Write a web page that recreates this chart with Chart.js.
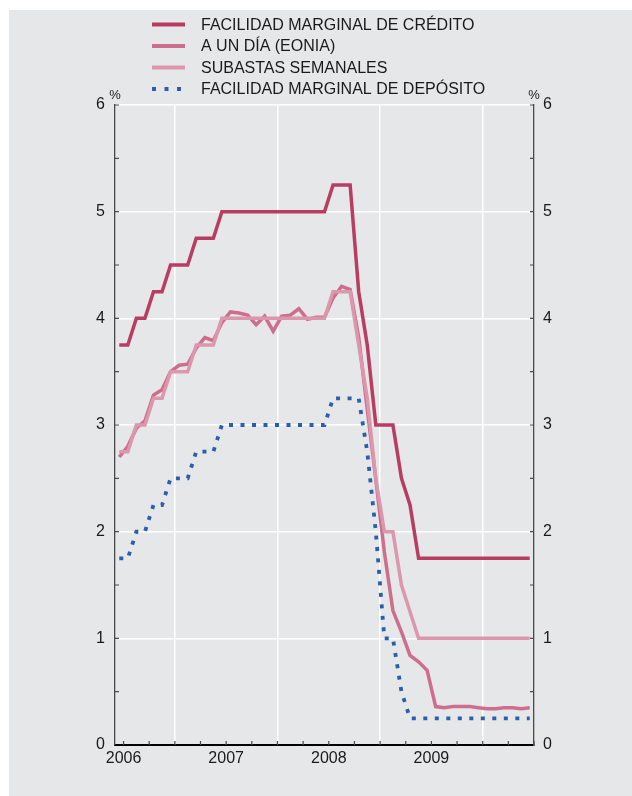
<!DOCTYPE html>
<html>
<head>
<meta charset="utf-8">
<script src="https://cdn.jsdelivr.net/npm/chart.js@4.4.0/dist/chart.umd.min.js"></script>
<style>
  html, body { margin: 0; padding: 0; background: #fff; }
  #wrap { width: 632px; height: 796px; }
</style>
</head>
<body>
<div id="wrap"><canvas id="rates" width="632" height="796"></canvas></div>
<script>
// monthly data, jun 2006 - jun 2010
const months = [
  '2006-06', '2006-07', '2006-08', '2006-09', '2006-10', '2006-11', '2006-12',
  '2007-01', '2007-02', '2007-03', '2007-04', '2007-05', '2007-06',
  '2007-07', '2007-08', '2007-09', '2007-10', '2007-11', '2007-12',
  '2008-01', '2008-02', '2008-03', '2008-04', '2008-05', '2008-06',
  '2008-07', '2008-08', '2008-09', '2008-10', '2008-11', '2008-12',
  '2009-01', '2009-02', '2009-03', '2009-04', '2009-05', '2009-06',
  '2009-07', '2009-08', '2009-09', '2009-10', '2009-11', '2009-12',
  '2010-01', '2010-02', '2010-03', '2010-04', '2010-05', '2010-06'
];

const creditFacility = [
  3.75, 3.75, 4.00, 4.00, 4.25, 4.25, 4.50,
  4.50, 4.50, 4.75, 4.75, 4.75, 5.00,
  5.00, 5.00, 5.00, 5.00, 5.00, 5.00,
  5.00, 5.00, 5.00, 5.00, 5.00, 5.00,
  5.25, 5.25, 5.25, 4.25, 3.75, 3.00,
  3.00, 3.00, 2.50, 2.25, 1.75, 1.75,
  1.75, 1.75, 1.75, 1.75, 1.75, 1.75,
  1.75, 1.75, 1.75, 1.75, 1.75, 1.75
];

const eonia = [
  2.70, 2.80, 2.97, 3.04, 3.28, 3.33, 3.50,
  3.56, 3.57, 3.72, 3.82, 3.79, 3.96,
  4.06, 4.05, 4.03, 3.94, 4.02, 3.88,
  4.02, 4.03, 4.09, 3.99, 4.01, 4.01,
  4.19, 4.30, 4.27, 3.82, 3.15, 2.49,
  1.81, 1.26, 1.06, 0.84, 0.78, 0.70,
  0.36, 0.35, 0.36, 0.36, 0.36, 0.35,
  0.34, 0.34, 0.35, 0.35, 0.34, 0.35
];

const weeklyAuctions = [
  2.75, 2.75, 3.00, 3.00, 3.25, 3.25, 3.50,
  3.50, 3.50, 3.75, 3.75, 3.75, 4.00,
  4.00, 4.00, 4.00, 4.00, 4.00, 4.00,
  4.00, 4.00, 4.00, 4.00, 4.00, 4.00,
  4.25, 4.25, 4.25, 3.75, 3.25, 2.50,
  2.00, 2.00, 1.50, 1.25, 1.00, 1.00,
  1.00, 1.00, 1.00, 1.00, 1.00, 1.00,
  1.00, 1.00, 1.00, 1.00, 1.00, 1.00
];

const depositFacility = [
  1.75, 1.75, 2.00, 2.00, 2.25, 2.25, 2.50,
  2.50, 2.50, 2.75, 2.75, 2.75, 3.00,
  3.00, 3.00, 3.00, 3.00, 3.00, 3.00,
  3.00, 3.00, 3.00, 3.00, 3.00, 3.00,
  3.25, 3.25, 3.25, 3.25, 2.75, 2.00,
  1.00, 1.00, 0.50, 0.25, 0.25, 0.25,
  0.25, 0.25, 0.25, 0.25, 0.25, 0.25,
  0.25, 0.25, 0.25, 0.25, 0.25, 0.25
];

const seriesNames = [
  'FACILIDAD MARGINAL DE CRÉDITO',
  'A UN DÍA (EONIA)',
  'SUBASTAS SEMANALES',
  'FACILIDAD MARGINAL DE DEPÓSITO'
];

const yearLabels = ['2006', '2007', '2008', '2009'];
const yearLabelMonths = ['2006-07', '2007-07', '2008-07', '2009-07'];
const quarterMonths = [
  '2006-07', '2006-10', '2007-01', '2007-04', '2007-07', '2007-10',
  '2008-01', '2008-04', '2008-07', '2008-10', '2009-01', '2009-04',
  '2009-07', '2009-10', '2010-01', '2010-04', '2010-07'
];

// month string -> months since jan 2006 (start of month)
function monthStart(m) {
  const [y, mo] = m.split('-').map(Number);
  return (y - 2006) * 12 + (mo - 1);
}
// data sits in the middle of each month
const xs = months.map(m => monthStart(m) + 0.5);
const toPoints = vals => vals.map((v, i) => ({ x: xs[i], y: v }));

const quarterTicks = quarterMonths.map(monthStart);
const yearTicks = yearLabelMonths.map(monthStart);

Chart.defaults.font.family = '"Liberation Sans", Arial, sans-serif';
Chart.defaults.font.size = 16;
Chart.defaults.color = '#1a1a1a';

const frame = {
  id: 'frame',
  beforeDraw(chart) {
    const { ctx, width, height } = chart;
    ctx.save();
    ctx.fillStyle = '#ffffff';
    ctx.fillRect(0, 0, width, height);
    ctx.fillStyle = '#e6e7e9';
    ctx.fillRect(9, 10, width - 9, height - 10);
    ctx.restore();
  }
};

// short ticks pointing into the plot
const innerTicks = {
  id: 'innerTicks',
  beforeDatasetsDraw(chart) {
    const { ctx, chartArea: a, scales } = chart;
    ctx.save();
    ctx.strokeStyle = '#4a4a4a';
    ctx.lineWidth = 1.2;
    ctx.beginPath();
    scales.y.ticks.forEach(t => {
      if (t.value === 0) return;
      const y = scales.y.getPixelForValue(t.value);
      ctx.moveTo(a.left, y); ctx.lineTo(a.left + 4, y);
      ctx.moveTo(a.right, y); ctx.lineTo(a.right - 4, y);
    });
    scales.x.ticks.forEach(t => {
      const x = scales.x.getPixelForValue(t.value);
      ctx.moveTo(x, a.bottom); ctx.lineTo(x, a.bottom - 4);
    });
    ctx.stroke();
    ctx.restore();
  },
  afterDraw(chart) {
    const { ctx, chartArea: a } = chart;
    ctx.save();
    ctx.fillStyle = '#1a1a1a';
    ctx.font = '13px "Liberation Sans", Arial, sans-serif';
    ctx.textAlign = 'center';
    ctx.textBaseline = 'alphabetic';
    ctx.fillText('%', a.left, a.top - 6);
    ctx.fillText('%', a.right, a.top - 6);
    ctx.restore();
  }
};

// legend drawn at top left, one row per dataset
const topLegend = {
  id: 'topLegend',
  afterDraw(chart) {
    const { ctx } = chart;
    ctx.save();
    chart.data.datasets.forEach((ds, i) => {
      const y = 24.5 + i * 21.5;
      ctx.beginPath();
      ctx.strokeStyle = ds.borderColor;
      ctx.lineWidth = 4;
      ctx.lineCap = 'butt';
      ctx.setLineDash(ds.borderDash ? [4, 8.5] : []);
      ctx.moveTo(152, y);
      ctx.lineTo(185, y);
      ctx.stroke();
      ctx.setLineDash([]);
      ctx.fillStyle = '#1a1a1a';
      ctx.font = '16px "Liberation Sans", Arial, sans-serif';
      ctx.textAlign = 'left';
      ctx.textBaseline = 'middle';
      ctx.fillText(ds.label, 201, y + 1);
    });
    ctx.restore();
  }
};

const lineStyle = { borderWidth: 3.5, pointRadius: 0, tension: 0, fill: false, borderCapStyle: 'butt' };

new Chart(document.getElementById('rates'), {
  type: 'line',
  data: {
    datasets: [
      { ...lineStyle, label: seriesNames[0], data: toPoints(creditFacility), borderColor: '#b93d63', order: 1 },
      { ...lineStyle, label: seriesNames[1], data: toPoints(eonia), borderColor: '#cd6e8d', order: 3 },
      { ...lineStyle, label: seriesNames[2], data: toPoints(weeklyAuctions), borderColor: '#dc97ad', order: 2 },
      { ...lineStyle, label: seriesNames[3], data: toPoints(depositFacility), borderColor: '#2b5fad',
        borderWidth: 3.8, borderDash: [4, 7.5], order: 0 }
    ]
  },
  options: {
    responsive: false,
    animation: false,
    layout: { padding: { top: 105, left: 0, right: 0, bottom: 0 } },
    plugins: { legend: { display: false }, tooltip: { enabled: false } },
    scales: {
      x: {
        type: 'linear',
        min: monthStart('2006-06'),
        max: monthStart('2010-07'),
        afterBuildTicks: s => { s.ticks = quarterTicks.map(v => ({ value: v })); },
        afterFit: s => { s.height = 51; },
        ticks: {
          autoSkip: false,
          maxRotation: 0,
          padding: 4,
          callback: v => {
            const k = yearTicks.indexOf(v);
            return k >= 0 ? yearLabels[k] : '';
          }
        },
        grid: {
          color: c => (c.tick && c.tick.value % 12 === 0) ? '#ffffff' : 'rgba(0,0,0,0)',
          lineWidth: 1.5,
          drawTicks: false
        },
        border: { color: '#000000', width: 2 }
      },
      y: {
        position: 'left',
        min: 0,
        max: 6,
        afterFit: s => { s.width = 115; },
        ticks: {
          stepSize: 0.5,
          autoSkip: false,
          padding: 10,
          callback: v => Number.isInteger(v) ? String(v) : ''
        },
        grid: {
          color: c => (c.tick && Number.isInteger(c.tick.value) && c.tick.value > 0) ? '#ffffff' : 'rgba(0,0,0,0)',
          lineWidth: 1.5,
          drawTicks: false
        },
        border: { color: '#4a4a4a', width: 1.3 }
      },
      y2: {
        position: 'right',
        min: 0,
        max: 6,
        afterFit: s => { s.width = 98; },
        ticks: {
          stepSize: 0.5,
          autoSkip: false,
          padding: 9,
          callback: v => Number.isInteger(v) ? String(v) : ''
        },
        grid: { drawOnChartArea: false, drawTicks: false },
        border: { color: '#4a4a4a', width: 1.3 }
      }
    }
  },
  plugins: [frame, innerTicks, topLegend]
});
</script>
</body>
</html>
